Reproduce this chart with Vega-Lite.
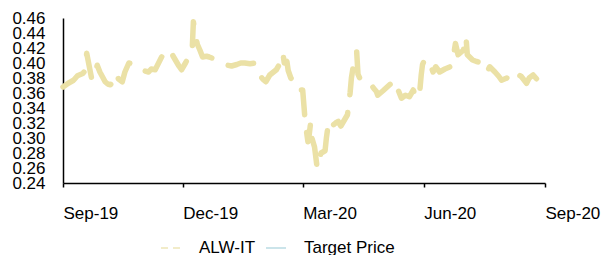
{
  "$schema": "https://vega.github.io/schema/vega-lite/v6.json",
  "width": 482,
  "height": 165,
  "autosize": {"type": "none"},
  "padding": {"left": 63, "top": 18, "right": 63, "bottom": 72},
  "background": "white",
  "config": {
    "view": {"stroke": null},
    "font": "Liberation Sans",
    "axis": {"labelFont": "Liberation Sans", "labelColor": "#000000", "domainColor": "#000000", "grid": false, "title": null}
  },
  "data": {
    "values": [
      {"date": "2019-09-01", "price": 0.368, "series": "ALW-IT"},
      {"date": "2019-09-05", "price": 0.373, "series": "ALW-IT"},
      {"date": "2019-09-09", "price": 0.377, "series": "ALW-IT"},
      {"date": "2019-09-12", "price": 0.383, "series": "ALW-IT"},
      {"date": "2019-09-16", "price": 0.386, "series": "ALW-IT"},
      {"date": "2019-09-18", "price": 0.390, "series": "ALW-IT"},
      {"date": "2019-09-19", "price": 0.413, "series": "ALW-IT"},
      {"date": "2019-09-21", "price": 0.395, "series": "ALW-IT"},
      {"date": "2019-09-23", "price": 0.377, "series": "ALW-IT"},
      {"date": "2019-09-25", "price": 0.385, "series": "ALW-IT"},
      {"date": "2019-09-27", "price": 0.397, "series": "ALW-IT"},
      {"date": "2019-09-29", "price": 0.388, "series": "ALW-IT"},
      {"date": "2019-10-03", "price": 0.375, "series": "ALW-IT"},
      {"date": "2019-10-05", "price": 0.372, "series": "ALW-IT"},
      {"date": "2019-10-07", "price": 0.371, "series": "ALW-IT"},
      {"date": "2019-10-10", "price": 0.377, "series": "ALW-IT"},
      {"date": "2019-10-12", "price": 0.386, "series": "ALW-IT"},
      {"date": "2019-10-13", "price": 0.379, "series": "ALW-IT"},
      {"date": "2019-10-16", "price": 0.375, "series": "ALW-IT"},
      {"date": "2019-10-18", "price": 0.388, "series": "ALW-IT"},
      {"date": "2019-10-21", "price": 0.400, "series": "ALW-IT"},
      {"date": "2019-10-24", "price": 0.399, "series": "ALW-IT"},
      {"date": "2019-10-27", "price": 0.393, "series": "ALW-IT"},
      {"date": "2019-10-29", "price": 0.392, "series": "ALW-IT"},
      {"date": "2019-11-01", "price": 0.390, "series": "ALW-IT"},
      {"date": "2019-11-05", "price": 0.388, "series": "ALW-IT"},
      {"date": "2019-11-07", "price": 0.392, "series": "ALW-IT"},
      {"date": "2019-11-10", "price": 0.391, "series": "ALW-IT"},
      {"date": "2019-11-14", "price": 0.405, "series": "ALW-IT"},
      {"date": "2019-11-17", "price": 0.415, "series": "ALW-IT"},
      {"date": "2019-11-20", "price": 0.408, "series": "ALW-IT"},
      {"date": "2019-11-23", "price": 0.411, "series": "ALW-IT"},
      {"date": "2019-11-26", "price": 0.402, "series": "ALW-IT"},
      {"date": "2019-11-28", "price": 0.396, "series": "ALW-IT"},
      {"date": "2019-11-30", "price": 0.391, "series": "ALW-IT"},
      {"date": "2019-12-03", "price": 0.400, "series": "ALW-IT"},
      {"date": "2019-12-06", "price": 0.410, "series": "ALW-IT"},
      {"date": "2019-12-08", "price": 0.413, "series": "ALW-IT"},
      {"date": "2019-12-09", "price": 0.455, "series": "ALW-IT"},
      {"date": "2019-12-10", "price": 0.442, "series": "ALW-IT"},
      {"date": "2019-12-12", "price": 0.425, "series": "ALW-IT"},
      {"date": "2019-12-14", "price": 0.417, "series": "ALW-IT"},
      {"date": "2019-12-16", "price": 0.408, "series": "ALW-IT"},
      {"date": "2019-12-19", "price": 0.409, "series": "ALW-IT"},
      {"date": "2019-12-21", "price": 0.408, "series": "ALW-IT"},
      {"date": "2019-12-24", "price": 0.406, "series": "ALW-IT"},
      {"date": "2019-12-27", "price": 0.404, "series": "ALW-IT"},
      {"date": "2019-12-29", "price": 0.402, "series": "ALW-IT"},
      {"date": "2020-01-01", "price": 0.400, "series": "ALW-IT"},
      {"date": "2020-01-04", "price": 0.397, "series": "ALW-IT"},
      {"date": "2020-01-07", "price": 0.396, "series": "ALW-IT"},
      {"date": "2020-01-11", "price": 0.398, "series": "ALW-IT"},
      {"date": "2020-01-14", "price": 0.400, "series": "ALW-IT"},
      {"date": "2020-01-17", "price": 0.400, "series": "ALW-IT"},
      {"date": "2020-01-21", "price": 0.399, "series": "ALW-IT"},
      {"date": "2020-01-25", "price": 0.400, "series": "ALW-IT"},
      {"date": "2020-01-27", "price": 0.394, "series": "ALW-IT"},
      {"date": "2020-01-28", "price": 0.388, "series": "ALW-IT"},
      {"date": "2020-01-30", "price": 0.380, "series": "ALW-IT"},
      {"date": "2020-01-31", "price": 0.378, "series": "ALW-IT"},
      {"date": "2020-02-02", "price": 0.375, "series": "ALW-IT"},
      {"date": "2020-02-05", "price": 0.384, "series": "ALW-IT"},
      {"date": "2020-02-10", "price": 0.391, "series": "ALW-IT"},
      {"date": "2020-02-12", "price": 0.397, "series": "ALW-IT"},
      {"date": "2020-02-15", "price": 0.413, "series": "ALW-IT"},
      {"date": "2020-02-16", "price": 0.400, "series": "ALW-IT"},
      {"date": "2020-02-18", "price": 0.402, "series": "ALW-IT"},
      {"date": "2020-02-19", "price": 0.390, "series": "ALW-IT"},
      {"date": "2020-02-21", "price": 0.380, "series": "ALW-IT"},
      {"date": "2020-02-25", "price": 0.373, "series": "ALW-IT"},
      {"date": "2020-02-26", "price": 0.364, "series": "ALW-IT"},
      {"date": "2020-03-01", "price": 0.364, "series": "ALW-IT"},
      {"date": "2020-03-02", "price": 0.342, "series": "ALW-IT"},
      {"date": "2020-03-03", "price": 0.320, "series": "ALW-IT"},
      {"date": "2020-03-05", "price": 0.295, "series": "ALW-IT"},
      {"date": "2020-03-06", "price": 0.305, "series": "ALW-IT"},
      {"date": "2020-03-07", "price": 0.320, "series": "ALW-IT"},
      {"date": "2020-03-08", "price": 0.300, "series": "ALW-IT"},
      {"date": "2020-03-10", "price": 0.288, "series": "ALW-IT"},
      {"date": "2020-03-12", "price": 0.260, "series": "ALW-IT"},
      {"date": "2020-03-14", "price": 0.275, "series": "ALW-IT"},
      {"date": "2020-03-15", "price": 0.280, "series": "ALW-IT"},
      {"date": "2020-03-18", "price": 0.283, "series": "ALW-IT"},
      {"date": "2020-03-19", "price": 0.300, "series": "ALW-IT"},
      {"date": "2020-03-20", "price": 0.313, "series": "ALW-IT"},
      {"date": "2020-03-22", "price": 0.324, "series": "ALW-IT"},
      {"date": "2020-03-24", "price": 0.317, "series": "ALW-IT"},
      {"date": "2020-03-26", "price": 0.320, "series": "ALW-IT"},
      {"date": "2020-03-28", "price": 0.322, "series": "ALW-IT"},
      {"date": "2020-03-30", "price": 0.316, "series": "ALW-IT"},
      {"date": "2020-04-02", "price": 0.325, "series": "ALW-IT"},
      {"date": "2020-04-04", "price": 0.331, "series": "ALW-IT"},
      {"date": "2020-04-06", "price": 0.360, "series": "ALW-IT"},
      {"date": "2020-04-07", "price": 0.380, "series": "ALW-IT"},
      {"date": "2020-04-08", "price": 0.391, "series": "ALW-IT"},
      {"date": "2020-04-09", "price": 0.405, "series": "ALW-IT"},
      {"date": "2020-04-11", "price": 0.415, "series": "ALW-IT"},
      {"date": "2020-04-12", "price": 0.385, "series": "ALW-IT"},
      {"date": "2020-04-14", "price": 0.377, "series": "ALW-IT"},
      {"date": "2020-04-16", "price": 0.374, "series": "ALW-IT"},
      {"date": "2020-04-18", "price": 0.371, "series": "ALW-IT"},
      {"date": "2020-04-22", "price": 0.371, "series": "ALW-IT"},
      {"date": "2020-04-24", "price": 0.366, "series": "ALW-IT"},
      {"date": "2020-04-26", "price": 0.362, "series": "ALW-IT"},
      {"date": "2020-04-27", "price": 0.357, "series": "ALW-IT"},
      {"date": "2020-05-01", "price": 0.363, "series": "ALW-IT"},
      {"date": "2020-05-06", "price": 0.371, "series": "ALW-IT"},
      {"date": "2020-05-10", "price": 0.377, "series": "ALW-IT"},
      {"date": "2020-05-12", "price": 0.366, "series": "ALW-IT"},
      {"date": "2020-05-15", "price": 0.353, "series": "ALW-IT"},
      {"date": "2020-05-18", "price": 0.357, "series": "ALW-IT"},
      {"date": "2020-05-21", "price": 0.355, "series": "ALW-IT"},
      {"date": "2020-05-24", "price": 0.364, "series": "ALW-IT"},
      {"date": "2020-05-26", "price": 0.353, "series": "ALW-IT"},
      {"date": "2020-05-29", "price": 0.364, "series": "ALW-IT"},
      {"date": "2020-05-30", "price": 0.384, "series": "ALW-IT"},
      {"date": "2020-05-31", "price": 0.398, "series": "ALW-IT"},
      {"date": "2020-06-02", "price": 0.406, "series": "ALW-IT"},
      {"date": "2020-06-06", "price": 0.397, "series": "ALW-IT"},
      {"date": "2020-06-08", "price": 0.388, "series": "ALW-IT"},
      {"date": "2020-06-10", "price": 0.395, "series": "ALW-IT"},
      {"date": "2020-06-13", "price": 0.388, "series": "ALW-IT"},
      {"date": "2020-06-17", "price": 0.392, "series": "ALW-IT"},
      {"date": "2020-06-21", "price": 0.395, "series": "ALW-IT"},
      {"date": "2020-06-23", "price": 0.404, "series": "ALW-IT"},
      {"date": "2020-06-25", "price": 0.426, "series": "ALW-IT"},
      {"date": "2020-06-27", "price": 0.411, "series": "ALW-IT"},
      {"date": "2020-07-01", "price": 0.417, "series": "ALW-IT"},
      {"date": "2020-07-03", "price": 0.435, "series": "ALW-IT"},
      {"date": "2020-07-04", "price": 0.411, "series": "ALW-IT"},
      {"date": "2020-07-08", "price": 0.404, "series": "ALW-IT"},
      {"date": "2020-07-11", "price": 0.402, "series": "ALW-IT"},
      {"date": "2020-07-15", "price": 0.400, "series": "ALW-IT"},
      {"date": "2020-07-19", "price": 0.388, "series": "ALW-IT"},
      {"date": "2020-07-21", "price": 0.395, "series": "ALW-IT"},
      {"date": "2020-07-25", "price": 0.388, "series": "ALW-IT"},
      {"date": "2020-07-28", "price": 0.382, "series": "ALW-IT"},
      {"date": "2020-07-30", "price": 0.377, "series": "ALW-IT"},
      {"date": "2020-08-03", "price": 0.380, "series": "ALW-IT"},
      {"date": "2020-08-07", "price": 0.377, "series": "ALW-IT"},
      {"date": "2020-08-10", "price": 0.386, "series": "ALW-IT"},
      {"date": "2020-08-14", "price": 0.382, "series": "ALW-IT"},
      {"date": "2020-08-18", "price": 0.373, "series": "ALW-IT"},
      {"date": "2020-08-20", "price": 0.380, "series": "ALW-IT"},
      {"date": "2020-08-23", "price": 0.384, "series": "ALW-IT"},
      {"date": "2020-08-26", "price": 0.378, "series": "ALW-IT"},
      {"date": "2020-08-31", "price": 0.371, "series": "ALW-IT"}
    ]
  },
  "mark": {"type": "line", "strokeWidth": 5.5, "strokeCap": "round", "strokeJoin": "round", "strokeDash": [26, 18], "clip": false},
  "encoding": {
    "x": {
      "field": "date",
      "type": "temporal",
      "scale": {"type": "utc", "domain": [{"year": 2019, "month": 9, "date": 1, "utc": true}, {"year": 2020, "month": 9, "date": 1, "utc": true}]},
      "axis": {
        "values": [
          {"year": 2019, "month": 9, "date": 1, "utc": true},
          {"year": 2019, "month": 12, "date": 1, "utc": true},
          {"year": 2020, "month": 3, "date": 1, "utc": true},
          {"year": 2020, "month": 6, "date": 1, "utc": true},
          {"year": 2020, "month": 9, "date": 1, "utc": true}
        ],
        "format": "%b-%y",
        "labelAlign": "left",
        "labelBaseline": "top",
        "labelFlush": false,
        "labelOverlap": false,
        "labelFontSize": 17,
        "labelPadding": 18,
        "tickSize": 4,
        "tickColor": "#000000",
        "tickWidth": 1.5,
        "domainWidth": 1.5
      }
    },
    "y": {
      "field": "price",
      "type": "quantitative",
      "scale": {"domain": [0.24, 0.46], "nice": false, "zero": false},
      "axis": {
        "values": [0.24, 0.26, 0.28, 0.30, 0.32, 0.34, 0.36, 0.38, 0.40, 0.42, 0.44, 0.46],
        "format": ".2f",
        "ticks": false,
        "tickSize": 0,
        "labelPadding": 18,
        "labelFontSize": 17,
        "labelOverlap": false,
        "labelFlush": false,
        "domainWidth": 1.5
      }
    },
    "color": {
      "field": "series",
      "type": "nominal",
      "scale": {"domain": ["ALW-IT", "Target Price"], "range": ["#ebe1a6", "#a9d3dd"]},
      "legend": {
        "title": null,
        "orient": "none",
        "legendX": 97,
        "legendY": 219,
        "direction": "horizontal",
        "symbolType": "stroke",
        "symbolSize": 400,
        "symbolStrokeWidth": 2,
        "symbolOpacity": 0.6,
        "labelFontSize": 17,
        "labelColor": "#000000",
        "labelOffset": 17,
        "columnPadding": 6,
        "encode": {
          "symbols": {"update": {"strokeDash": {"signal": "datum.value === 'ALW-IT' ? [7, 5] : [1, 0]"}}}
        }
      }
    }
  }
}
